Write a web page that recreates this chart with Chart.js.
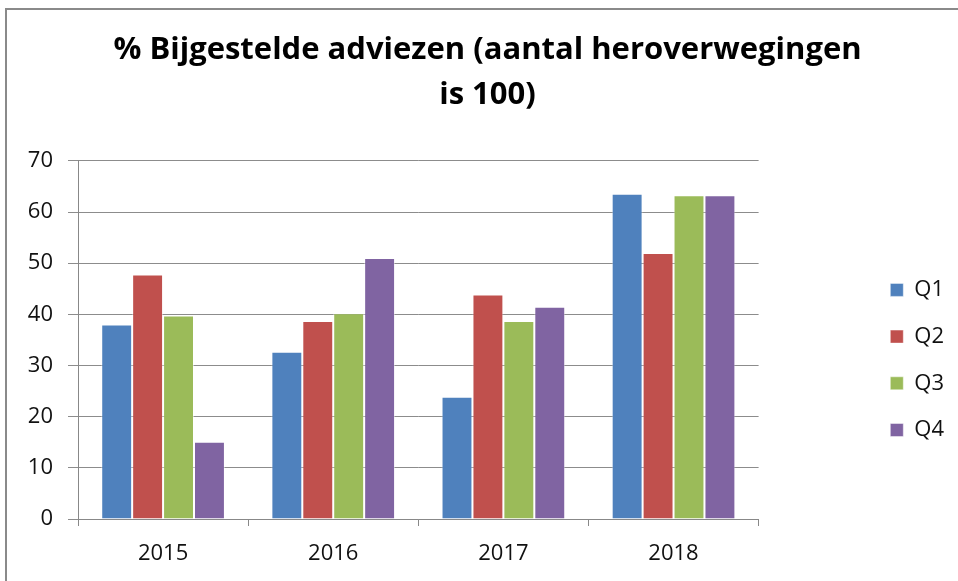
<!DOCTYPE html>
<html>
<head>
<meta charset="utf-8">
<script src="https://cdn.jsdelivr.net/npm/chart.js@4/dist/chart.umd.min.js"></script>
<style>
  html, body { margin: 0; padding: 0; background: #fff; }
  #wrap { width: 958px; height: 581px; }
</style>
</head>
<body>
<div id="wrap"><canvas id="advies-chart"></canvas></div>
<script>
const years = ['2015', '2016', '2017', '2018'];
const q1 = [38.0, 32.7, 23.9, 63.6];
const q2 = [47.8, 38.7, 43.9, 52.0];
const q3 = [39.8, 40.2, 38.7, 63.3];
const q4 = [15.1, 51.0, 41.5, 63.3];
const seriesNames = ['Q1', 'Q2', 'Q3', 'Q4'];
const titleLines = ['% Bijgestelde adviezen (aantal heroverwegingen', 'is 100)'];

const colors = ['#4F81BD', '#C0504D', '#9BBB59', '#8064A2'];
const font = '"Open Sans", "Noto Sans", sans-serif';

// grey frame round the chart, like the Excel chart box
const frame = {
  id: 'frame',
  beforeDraw(chart) {
    const { ctx } = chart;
    ctx.save();
    ctx.strokeStyle = '#8a8a8a';
    ctx.lineWidth = 2;
    ctx.strokeRect(6, 9, 1000, 1000);
    ctx.restore();
  },
};

const ctx = document.getElementById('advies-chart').getContext('2d');

new Chart(ctx, {
  type: 'bar',
  data: {
    labels: years,
    datasets: [q1, q2, q3, q4].map((values, i) => ({
      label: seriesNames[i],
      data: values,
      backgroundColor: colors[i],
      borderColor: 'rgba(255,255,255,0.45)',
      borderWidth: 1,
      categoryPercentage: 0.727,
      barPercentage: 1,
    })),
  },
  options: {
    responsive: true,
    maintainAspectRatio: false,
    animation: false,
    layout: {
      padding: { left: 21, right: 4, top: 10, bottom: 0 },
    },
    scales: {
      x: {
        offset: true,
        grid: {
          offset: true,
          drawOnChartArea: false,
          tickLength: 7,
          color: '#888',
        },
        border: { color: '#888', width: 1 },
        ticks: {
          padding: 15,
          color: '#111',
          font: { family: font, size: 22 },
        },
        afterFit(scale) {
          scale.height = 62;
        },
      },
      y: {
        min: 0,
        max: 70,
        ticks: {
          stepSize: 10,
          padding: 15,
          color: '#111',
          font: { family: font, size: 22 },
        },
        grid: {
          color: '#8c8c8c',
          tickLength: 10,
        },
        border: { color: '#888', width: 1 },
        afterFit(scale) {
          scale.width = 57;
        },
      },
      gap: {
        type: 'linear',
        position: 'right',
        grid: { display: false },
        border: { display: false },
        ticks: { display: false },
        afterFit(scale) {
          scale.width = 107;
        },
      },
    },
    plugins: {
      title: {
        display: true,
        text: titleLines,
        color: '#000',
        font: { family: font, size: 31, weight: 'bold', lineHeight: 1.45 },
        padding: { top: 17.5, bottom: 43.5 },
      },
      legend: {
        position: 'right',
        fullSize: false,
        title: {
          display: true,
          text: ' ',
          font: { size: 10 },
          padding: { top: 14, bottom: 14 },
        },
        labels: {
          boxWidth: 13,
          boxHeight: 13,
          padding: 24.7,
          color: '#111',
          font: { family: font, size: 22 },
        },
      },
      tooltip: { enabled: false },
    },
  },
  plugins: [frame],
});
</script>
</body>
</html>
